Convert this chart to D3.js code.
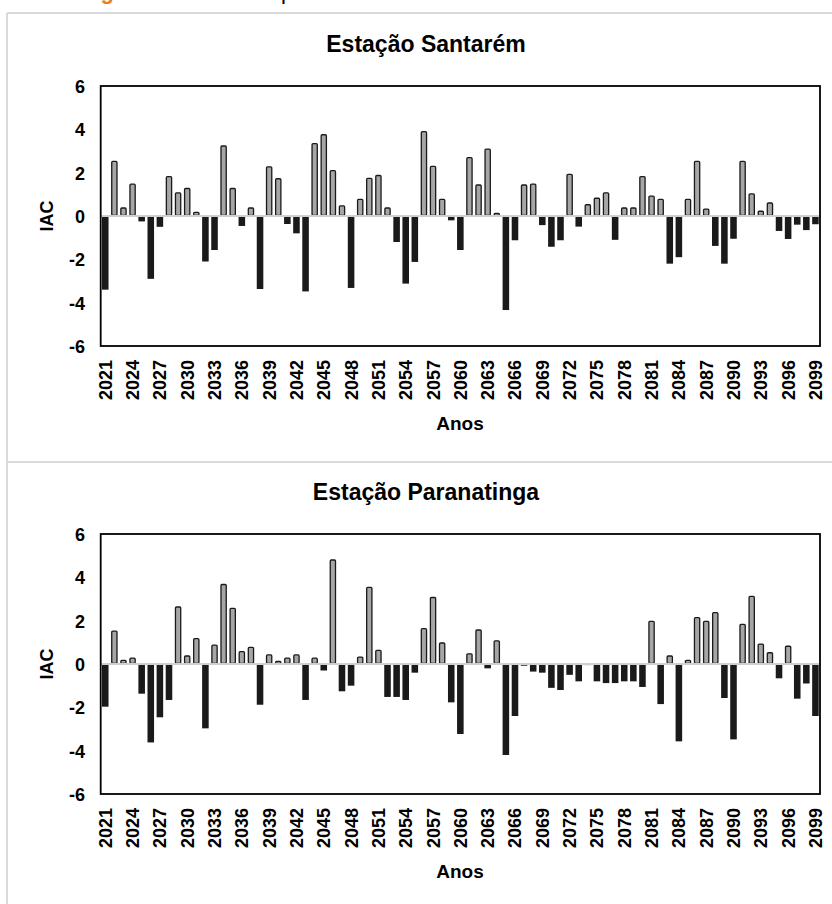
<!DOCTYPE html>
<html><head><meta charset="utf-8">
<script src="https://cdn.jsdelivr.net/npm/d3@7"></script>
<style>
body{margin:0;background:#fff}
svg{display:block}
text{font-family:"Liberation Sans",Arial,sans-serif;font-weight:bold;fill:#000}
</style>
</head><body>
<script>
// ---------- DATA ----------
const years = [2021,2022,2023,2024,2025,2026,2027,2028,2029,2030,
  2031,2032,2033,2034,2035,2036,2037,2038,2039,2040,
  2041,2042,2043,2044,2045,2046,2047,2048,2049,2050,
  2051,2052,2053,2054,2055,2056,2057,2058,2059,2060,
  2061,2062,2063,2064,2065,2066,2067,2068,2069,2070,
  2071,2072,2073,2074,2075,2076,2077,2078,2079,2080,
  2081,2082,2083,2084,2085,2086,2087,2088,2089,2090,
  2091,2092,2093,2094,2095,2096,2097,2098,2099];

const santarem = [-3.4,2.55,0.4,1.5,-0.25,-2.9,-0.5,1.85,1.1,1.3,
  0.2,-2.1,-1.57,3.26,1.3,-0.46,0.4,-3.37,2.3,1.75,
  -0.37,-0.8,-3.48,3.37,3.78,2.12,0.5,-3.32,0.8,1.77,
  1.9,0.4,-1.2,-3.12,-2.12,3.92,2.32,0.8,-0.2,-1.57,
  2.72,1.46,3.12,0.15,-4.34,-1.12,1.46,1.5,-0.42,-1.42,
  -1.12,1.95,-0.49,0.55,0.85,1.1,-1.1,0.4,0.4,1.85,
  0.95,0.8,-2.2,-1.9,0.8,2.55,0.35,-1.38,-2.2,-1.05,
  2.55,1.05,0.25,0.63,-0.69,-1.06,-0.4,-0.65,-0.38];

const paranatinga = [-1.97,1.55,0.2,0.3,-1.37,-3.62,-2.46,-1.66,2.66,0.4,
  1.2,-2.97,0.9,3.7,2.6,0.6,0.8,-1.88,0.45,0.15,
  0.3,0.45,-1.66,0.3,-0.3,4.83,-1.26,-1.0,0.35,3.57,
  0.66,-1.52,-1.52,-1.66,-0.4,1.66,3.1,1.0,-1.77,-3.23,
  0.5,1.6,-0.2,1.1,-4.2,-2.4,-0.08,-0.35,-0.4,-1.1,
  -1.2,-0.5,-0.8,-0.05,-0.8,-0.88,-0.88,-0.8,-0.8,-1.06,
  2.0,-1.85,0.4,-3.57,0.2,2.17,2.0,2.4,-1.57,-3.48,
  1.86,3.15,0.95,0.55,-0.66,0.85,-1.6,-0.9,-2.4];

const yTicks = [-6,-4,-2,0,2,4,6];
const yearTicks = [2021,2024,2027,2030,2033,2036,2039,2042,2045,2048,2051,2054,2057,
  2060,2063,2066,2069,2072,2075,2078,2081,2084,2087,2090,2093,2096,2099];
const titles = ["Estação Santarém","Estação Paranatinga"];
const yLabel = "IAC";
const xLabel = "Anos";
const captionLabel = "Figura 5";
const captionText = "IAC anual para 2021 a 2099";

// ---------- DRAW ----------
const W = 832, H = 904;
const svg = d3.select("body").append("svg").attr("width",W).attr("height",H);

// caption cut off at the very top in the source: only descenders show
svg.append("text").attr("x",81).attr("y",-1.5).style("font-size","22px")
  .style("fill","#ef7d1a").text(captionLabel);
const cap2 = svg.append("text").attr("y",-1.5).style("font-size","22px").style("font-weight","normal")
  .attr("x",0).text(captionText);
(function(){
  const i = captionText.indexOf("p");
  const px = cap2.node().getStartPositionOfChar(i).x;
  cap2.attr("x", 281 - px);
})();

// outer frame
const frame = svg.append("g").attr("fill","none").attr("stroke","#d9d9d9").attr("stroke-width",2);
frame.append("line").attr("x1",7).attr("x2",7).attr("y1",13).attr("y2",H);
frame.append("line").attr("x1",7).attr("x2",W).attr("y1",13).attr("y2",13);
frame.append("line").attr("x1",7).attr("x2",W).attr("y1",462).attr("y2",462);

const series = [santarem, paranatinga];
const offsets = [0, 448];

series.forEach((vals, k) => {
  const oy = offsets[k];
  const left = 100.7, right = 820, top = 86 + oy, bottom = 346 + oy;
  const x = d3.scaleBand().domain(years).range([left,right]).paddingInner(0.28).paddingOuter(0.14);
  const y = d3.scaleLinear().domain([-6,6]).range([bottom, top]);
  const g = svg.append("g");

  // title
  g.append("text").attr("x",426).attr("y",52+oy).attr("text-anchor","middle")
    .style("font-size","23px").text(titles[k]);

  const data = years.map((yr,i)=>({yr, v: vals[i]}));
  const sw = 1.3;
  // negative bars
  g.selectAll("rect.neg").data(data.filter(d=>d.v<0)).join("rect")
    .attr("class","neg")
    .attr("x",d=>x(d.yr)).attr("width",x.bandwidth())
    .attr("y",y(0)).attr("height",d=>y(d.v)-y(0))
    .attr("fill","#1a1a1a");
  // positive bars (gray with outline)
  g.selectAll("rect.pos").data(data.filter(d=>d.v>=0)).join("rect")
    .attr("class","pos")
    .attr("x",d=>x(d.yr)+sw/2).attr("width",x.bandwidth()-sw)
    .attr("y",d=>y(d.v)+sw/2).attr("height",d=>Math.max(0.5,y(0)-y(d.v)-sw))
    .attr("rx",1)
    .attr("fill","#a6a6a6").attr("stroke","#1a1a1a").attr("stroke-width",sw);

  // zero line
  g.append("line").attr("x1",left).attr("x2",right).attr("y1",y(0)).attr("y2",y(0))
    .attr("stroke","#d0d0d0").attr("stroke-width",2);

  // plot border
  g.append("rect").attr("x",left).attr("y",top).attr("width",right-left).attr("height",bottom-top)
    .attr("fill","none").attr("stroke","#000").attr("stroke-width",1.8);

  // y axis
  const ya = g.append("g").attr("transform",`translate(85,0)`)
    .call(d3.axisLeft(y).tickValues(yTicks).tickSize(0).tickPadding(0).tickFormat(d=>String(d)));
  ya.select(".domain").remove();
  ya.selectAll("text").style("font-size","18px").attr("font-family",null).attr("dy","0.36em");

  // x axis
  const xa = g.append("g").attr("transform",`translate(0,${bottom})`)
    .call(d3.axisBottom(x).tickValues(yearTicks).tickSize(0).tickFormat(d=>String(d)));
  xa.select(".domain").remove();
  xa.selectAll("text").style("font-size","18px")
    .attr("transform","rotate(-90)").attr("text-anchor","end")
    .attr("x",-14).attr("y",0).attr("dy","0.36em");

  // axis titles
  g.append("text").attr("transform",`translate(53,${y(0)}) rotate(-90)`)
    .attr("text-anchor","middle").style("font-size","18px").text(yLabel);
  g.append("text").attr("x",460).attr("y",430+oy).attr("text-anchor","middle")
    .style("font-size","19px").text(xLabel);
});
</script>
</body></html>
